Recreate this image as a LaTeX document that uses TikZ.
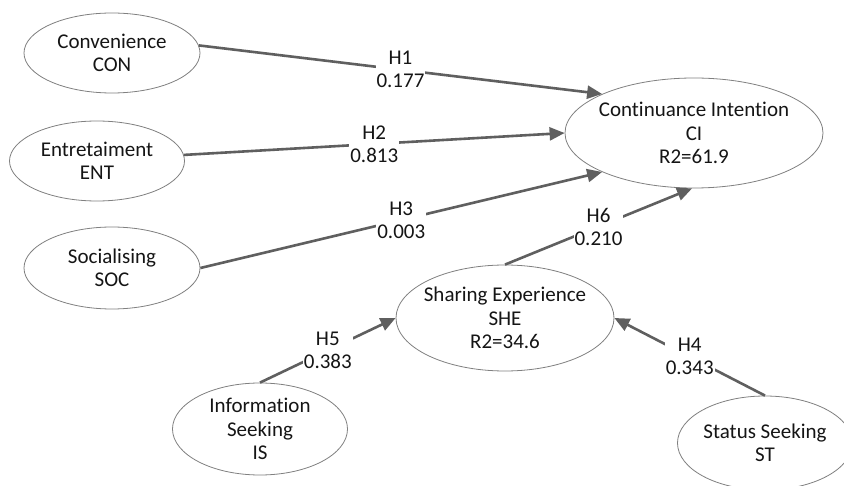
\documentclass[tikz,border=0pt]{standalone}
\usepackage{fontspec}
\setmainfont{Carlito}[Ligatures={NoCommon,NoContextual}]
\usetikzlibrary{shapes.geometric,arrows.meta}
\definecolor{arrgray}{HTML}{5F5F5F}
\definecolor{ellgray}{HTML}{808080}
\definecolor{txtcol}{HTML}{151515}
\tikzset{
  ell/.style={ellipse,draw=ellgray,line width=0.8pt,inner sep=0pt,fill=white},
  txt/.style={align=center,text=txtcol,font=\fontsize{21}{23.5}\selectfont,inner sep=0pt},
  arr/.style={draw=arrgray,line width=2.6pt,-{Triangle[length=15pt,width=13pt]}},
  lbl/.style={fill=white,align=center,text=txtcol,font=\fontsize{21}{23}\selectfont,inner sep=1pt,pos=0.5}
}
\begin{document}
\begin{tikzpicture}[x=1pt,y=-1pt]
\useasboundingbox[fill=white] (0,0) rectangle (844,486);
% ellipses
\node[ell,minimum width=176pt,minimum height=80pt] (con) at (112,53) {};
\node[txt] (cont) at (con) {Convenience\\CON};
\node[ell,minimum width=175pt,minimum height=80pt] (ent) at (97,161) {};
\node[txt] (entt) at (ent) {Entretaiment\\ENT};
\node[ell,minimum width=176pt,minimum height=82pt] (soc) at (112,268) {};
\node[txt] (soct) at (soc) {Socialising\\SOC};
\node[ell,minimum width=258pt,minimum height=110pt] (ci) at (694,133) {};
\node[txt] (cit) at (ci) {Continuance Intention\\CI\\R2=61.9};
\node[ell,minimum width=218pt,minimum height=106pt] (she) at (505,318) {};
\node[txt] (shet) at (she) {Sharing Experience\\SHE\\R2=34.6};
\node[ell,minimum width=175pt,minimum height=92pt] (is) at (260,429) {};
\node[txt] (ist) at (is) {Information\\Seeking\\IS};
\node[ell,minimum width=175pt,minimum height=94pt] (st) at (765,443) {};
\node[txt] (stt) at (st) {Status Seeking\\ST};
% connectors
\draw[arr] (con.5) -- node[lbl] (h1) {H1\\0.177} (ci.157.5);
\draw[arr] (ent.4) -- node[lbl] (h2) {H2\\0.813} (ci.180);
\draw[arr] (soc.0) -- node[lbl] (h3) {H3\\0.003} (ci.203);
\draw[arr] (she.north) -- node[lbl] (h6) {H6\\0.210} (ci.268);
\draw[arr] (is.north) -- node[lbl] (h5) {H5\\0.383} (she.west);
\draw[arr] (st.north) -- node[lbl] (h4) {H4\\0.343} (she.east);
\end{tikzpicture}
\end{document}
